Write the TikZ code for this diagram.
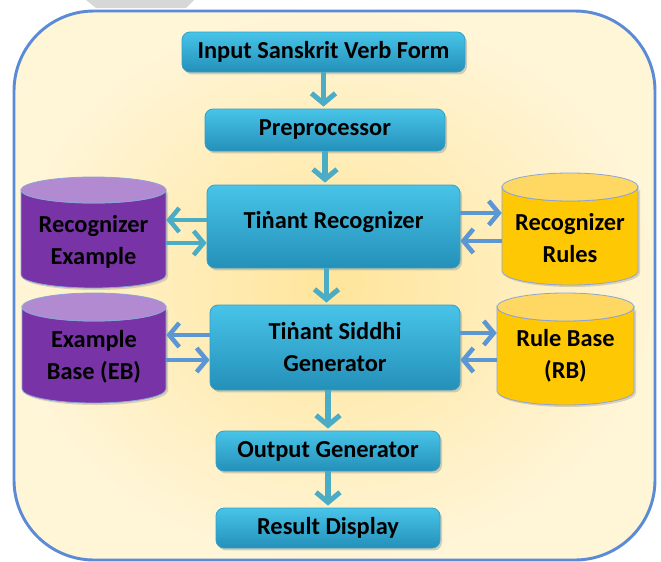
\documentclass[tikz,border=0pt]{standalone}
\usepackage{fontspec}
\setmainfont{Carlito}
\usetikzlibrary{arrows.meta,shadows,calc}
\definecolor{outerblue}{RGB}{91,139,215}
\definecolor{bgin}{RGB}{255,229,155}
\definecolor{bgout}{RGB}{255,245,215}
\definecolor{boxtop}{RGB}{72,196,232}
\definecolor{boxbot}{RGB}{36,144,185}
\definecolor{boxline}{RGB}{50,160,200}
\definecolor{teal}{RGB}{75,172,198}
\definecolor{arrblue}{RGB}{91,150,213}
\definecolor{purplebody}{RGB}{120,52,166}
\definecolor{purpletop}{RGB}{178,138,210}
\definecolor{yellowbody}{RGB}{255,200,5}
\definecolor{yellowtop}{RGB}{255,216,100}
\definecolor{cylline}{RGB}{140,165,215}
\definecolor{wmgray}{RGB}{215,215,215}
\newcommand\cylshape[7]{%
  \pgfmathsetmacro\cylcx{(#1+#2)/2}%
  \pgfmathsetmacro\cylrx{(#2-#1)/2}%
  \pgfmathsetmacro\cylyt{#3+#5}%
  \pgfmathsetmacro\cylyb{#4-#5}%
  \path[fill=#6, draw=cylline, line width=0.6pt,
        drop shadow={opacity=0.3, shadow xshift=1.5pt, shadow yshift=-1.5pt}]
    (#1,\cylyt) -- (#1,\cylyb)
    arc[start angle=180, end angle=0, x radius=\cylrx, y radius=#5]
    -- (#2,\cylyt)
    arc[start angle=0, end angle=180, x radius=\cylrx, y radius=#5] -- cycle;
  \path[fill=#7, draw=cylline, line width=0.6pt]
    (\cylcx,\cylyt) ellipse[x radius=\cylrx, y radius=#5];
}
\begin{document}
\begin{tikzpicture}[x=0.75pt,y=-0.75pt,
  box/.style={draw=boxline, line width=0.6pt, rounded corners=6pt,
    top color=boxtop, bottom color=boxbot, align=center,
    font=\bfseries\fontsize{18.3}{24}\selectfont, text=black, inner sep=0pt,
    drop shadow={opacity=0.35, shadow xshift=1.5pt, shadow yshift=-1.8pt}},
  cyltext/.style={align=center, inner sep=0pt, text=black,
    font=\bfseries\fontsize{18.3}{24}\selectfont},
  varr/.style={draw=teal, line width=3.8pt,
    -{Straight Barb[length=7.5pt,width=18pt]}, shorten >=1.5pt},
  harr/.style={line width=3.4pt, -{Straight Barb[length=7.5pt,width=18pt]}},
]
\useasboundingbox (0,0) rectangle (661,561);
% watermark fragment
\fill[wmgray] (86,0) -- (194,0) -- (186,8) -- (96,8) -- cycle;
% background panel
\draw[line width=2.2pt, draw=outerblue, inner color=bgin, outer color=bgout,
      rounded corners=60pt] (14,11) rectangle (655,560);

% cylinders
\cylshape{21}{166}{177}{288}{13}{purplebody}{purpletop}
\cylshape{502}{638}{173}{285}{14}{yellowbody}{yellowtop}
\cylshape{22}{166}{293}{403}{14}{purplebody}{purpletop}
\cylshape{497}{634}{293}{405}{14}{yellowbody}{yellowtop}

\node[cyltext, minimum width=108.75pt] (recex) at (93.5,241.5) {Recognizer\\Example};
\node[cyltext, minimum width=102pt] (recru) at (570,238) {Recognizer\\Rules};
\node[cyltext, minimum width=108pt] (exb) at (94,357) {Example\\Base (EB)};
\node[cyltext, minimum width=102.75pt] (rb) at (565.5,356) {Rule Base\\(RB)};

% boxes
\node[box, minimum width=212.25pt, minimum height=30pt] (inp) at (323.5,52) {Input Sanskrit Verb Form};
\node[box, minimum width=180pt, minimum height=31.5pt] (pre) at (325,130) {Preprocessor};
\node[box, minimum width=189.75pt, minimum height=62.25pt] (rec) at (333.5,226.5) {\raisebox{10pt}{Tiṅant Recognizer}};
\node[box, minimum width=187.5pt, minimum height=63.75pt] (gen) at (335,347.5) {Tiṅant Siddhi\\Generator};
\node[box, minimum width=168pt, minimum height=30pt] (out) at (328,451) {Output Generator};
\node[box, minimum width=168pt, minimum height=30pt] (res) at (328,528) {Result Display};

% vertical arrows
\draw[varr] (inp.south) -- (inp.south |- pre.north);
\draw[varr] (pre.south) -- (pre.south |- rec.north);
\coordinate (r2g) at ($(rec.south)+(-7,0)$);
\draw[varr] (r2g) -- (r2g |- gen.north);
\draw[varr] (out.north |- gen.south) -- (out.north);
\draw[varr] (out.south) -- (res.north);

% horizontal arrows: recognizer
\coordinate (rl1) at ($(rec.west)+(0,-6.5)$);
\coordinate (rl2) at ($(rec.west)+(0,16.5)$);
\draw[harr, draw=teal] (rl1) -- (rl1 -| recex.east);
\draw[harr, draw=teal] (rl2 -| recex.east) -- (rl2);
\coordinate (rr1) at ($(rec.east)+(0,-13.5)$);
\coordinate (rr2) at ($(rec.east)+(0,14.5)$);
\draw[harr, draw=arrblue] (rr1) -- (rr1 -| recru.west);
\draw[harr, draw=arrblue] (rr2 -| recru.west) -- (rr2);
% horizontal arrows: generator
\coordinate (gl1) at ($(gen.west)+(0,-12.5)$);
\coordinate (gl2) at ($(gen.west)+(0,12.5)$);
\draw[harr, draw=arrblue] (gl1) -- (gl1 -| exb.east);
\draw[harr, draw=arrblue] (gl2 -| exb.east) -- (gl2);
\coordinate (gr1) at ($(gen.east)+(0,-14.5)$);
\coordinate (gr2) at ($(gen.east)+(0,12.5)$);
\draw[harr, draw=arrblue] (gr1) -- (gr1 -| rb.west);
\draw[harr, draw=arrblue] (gr2 -| rb.west) -- (gr2);
\end{tikzpicture}
\end{document}
